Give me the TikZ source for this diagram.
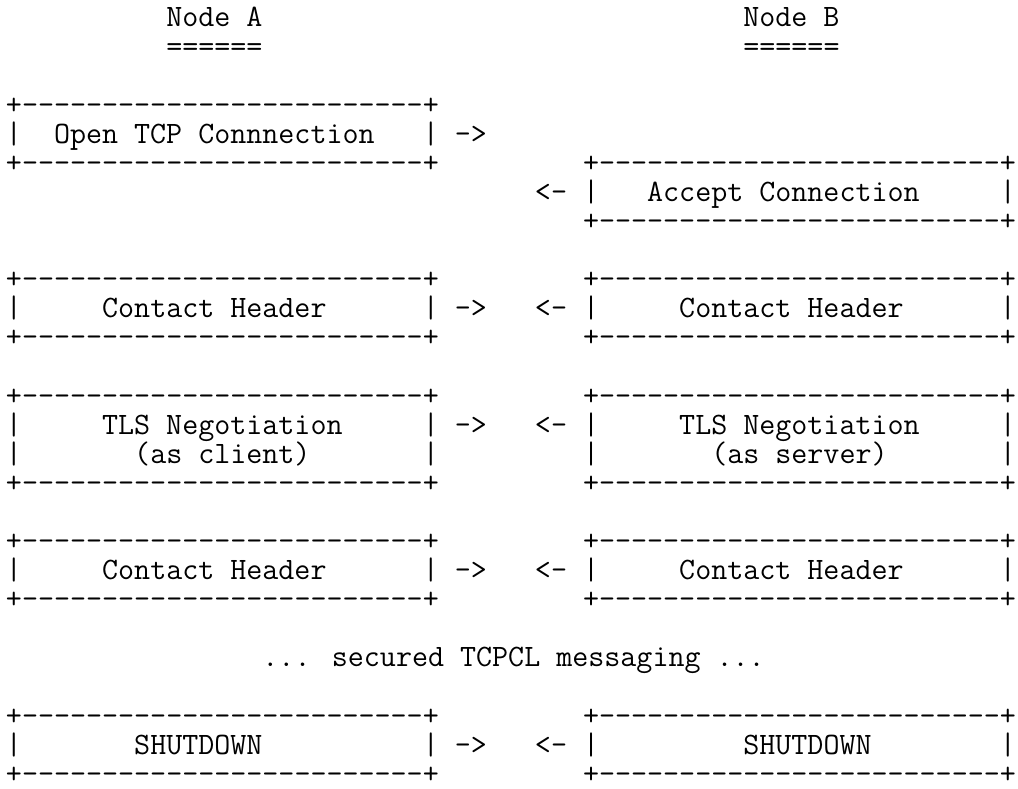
\documentclass[tikz,border=0pt]{standalone}
\usetikzlibrary{positioning}
\newlength{\chw}
\tikzset{
  asc/.style={font=\asciifont, anchor=base west, inner sep=0pt, outer sep=0pt}
}
\newcommand{\boxedge}{+-------------------------+}
\newcommand{\asciifont}{\ttfamily\fontsize{\asz}{\asz}\selectfont}
% \asciibox{name}{col}{top line}{inner rows}
\newcommand{\asciibox}[4]{%
  \node[asc] (#1-top) at (#2,#3) {\boxedge};
  \foreach \rw in {1,...,#4}{
    \node[asc] (#1-l\rw) at (#2,#3+\rw) {|};
    \node[asc] (#1-r\rw) at (#2+26,#3+\rw) {|};
  }
  \node[asc] (#1-bot) at (#2,#3+#4+1) {\boxedge};
}
\begin{document}
\settowidth{\chw}{\ttfamily\fontsize{30}{30}\selectfont M}%
\pgfmathsetmacro{\asz}{30*16.03/\chw}%
\begin{tikzpicture}[x=16.03pt, y=-29.09pt]
  \useasboundingbox (-5.98pt,27pt) rectangle (1012.02pt,-762pt);
  % headers
  \node[asc] (nodea) at (10,0) {Node A};
  \node[asc] (nodeb) at (46,0) {Node B};
  \node[asc] (nodea-ul) at (10,1) {======};
  \node[asc] (nodeb-ul) at (46,1) {======};
  % connection
  \asciibox{open}{0}{3}{1}
  \node[asc] (open-txt) at (3,4) {Open TCP Connnection};
  \node[asc] (open-out) at (28,4) {->};
  \asciibox{accept}{36}{5}{1}
  \node[asc] (accept-in) at (33,6) {<-};
  \node[asc] (accept-txt) at (40,6) {Accept Connection};
  % first contact header
  \asciibox{cha}{0}{9}{1}
  \asciibox{chb}{36}{9}{1}
  \node[asc] (cha-txt) at (6,10) {Contact Header};
  \node[asc] (cha-out) at (28,10) {->};
  \node[asc] (chb-in) at (33,10) {<-};
  \node[asc] (chb-txt) at (42,10) {Contact Header};
  % tls
  \asciibox{tlsa}{0}{13}{2}
  \asciibox{tlsb}{36}{13}{2}
  \node[asc] (tlsa-txt) at (6,14) {TLS Negotiation};
  \node[asc] (tlsa-role) at (8,15) {(as client)};
  \node[asc] (tlsa-out) at (28,14) {->};
  \node[asc] (tlsb-in) at (33,14) {<-};
  \node[asc] (tlsb-txt) at (42,14) {TLS Negotiation};
  \node[asc] (tlsb-role) at (44,15) {(as server)};
  % second contact header
  \asciibox{cha2}{0}{18}{1}
  \asciibox{chb2}{36}{18}{1}
  \node[asc] (cha2-txt) at (6,19) {Contact Header};
  \node[asc] (cha2-out) at (28,19) {->};
  \node[asc] (chb2-in) at (33,19) {<-};
  \node[asc] (chb2-txt) at (42,19) {Contact Header};
  \node[asc] (msgs) at (16,22) {... secured TCPCL messaging ...};
  % shutdown
  \asciibox{sda}{0}{24}{1}
  \asciibox{sdb}{36}{24}{1}
  \node[asc] (sda-txt) at (8,25) {SHUTDOWN};
  \node[asc] (sda-out) at (28,25) {->};
  \node[asc] (sdb-in) at (33,25) {<-};
  \node[asc] (sdb-txt) at (46,25) {SHUTDOWN};
\end{tikzpicture}
\end{document}
